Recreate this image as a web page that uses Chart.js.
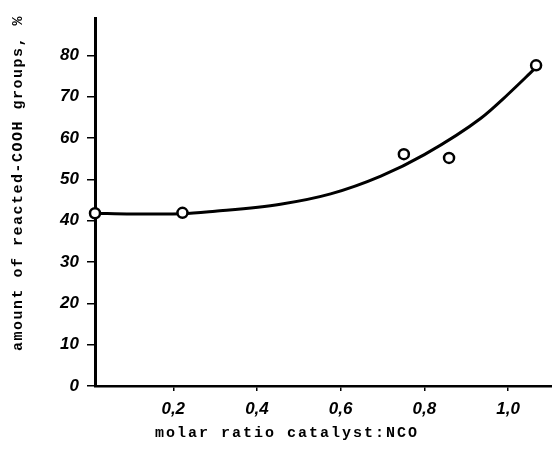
<!DOCTYPE html>
<html><head><meta charset="utf-8">
<script src="https://cdn.jsdelivr.net/npm/chart.js@4"></script>
<style>html,body{margin:0;padding:0;background:#fff;}#wrap{width:552px;height:449px;}</style>
</head><body><div id="wrap"><canvas id="c" width="552" height="449"></canvas></div>
<script>
const ratioPoints = [0.013, 0.222, 0.751, 0.859, 1.067];
const reactedPoints = [41.8, 41.9, 56.1, 55.2, 77.6];
const curveX = [0.013, 0.1, 0.222, 0.3, 0.456, 0.576, 0.696, 0.8, 0.935, 1.0, 1.062];
const curveY = [41.8, 41.6, 41.7, 42.3, 44.0, 46.5, 50.8, 56.0, 64.8, 70.6, 76.6];
const xTicks = [0.2, 0.4, 0.6, 0.8, 1.0];
const yTicks = [0, 10, 20, 30, 40, 50, 60, 70, 80];
const xTitle = 'molar ratio catalyst:NCO';
const yTitle = 'amount of reacted-COOH groups, %';

const titlePlugin = {
  id: 'titles',
  afterDraw(chart) {
    const ctx = chart.ctx;
    ctx.save();
    ctx.fillStyle = '#000';
    ctx.font = 'bold 15px "Liberation Mono"';
    ctx.textAlign = 'center';
    ctx.textBaseline = 'middle';
    if ('letterSpacing' in ctx) ctx.letterSpacing = '2px';
    ctx.fillText(xTitle, 287, 433);
    if ('letterSpacing' in ctx) ctx.letterSpacing = '1.5px';
    ctx.translate(18, 183);
    ctx.rotate(-Math.PI / 2);
    ctx.fillText(yTitle, 0, 0);
    ctx.restore();
  }
};

new Chart(document.getElementById('c'), {
  type: 'scatter',
  data: {
    datasets: [
      {
        data: ratioPoints.map((x, i) => ({x, y: reactedPoints[i]})),
        pointRadius: 5, pointBorderWidth: 2.5, pointBorderColor: '#000',
        pointBackgroundColor: '#fff', showLine: false, order: 0, clip: false
      },
      {
        data: curveX.map((x, i) => ({x, y: curveY[i]})),
        showLine: true, borderColor: '#000', borderWidth: 3, pointRadius: 0,
        cubicInterpolationMode: 'monotone', order: 1
      }
    ]
  },
  plugins: [titlePlugin],
  options: {
    responsive: false, animation: false, events: [],
    layout: {autoPadding: false, padding: {top: 15, right: 0, left: 0, bottom: 0}},
    plugins: {legend: {display: false}, tooltip: {enabled: false}},
    scales: {
      x: {
        type: 'linear', min: 0.013, max: 1.105,
        afterBuildTicks(s) { s.ticks = xTicks.map(v => ({value: v})); },
        afterFit(s) { s.height = 63; s.paddingRight = 0; s.paddingLeft = 0; },
        border: {display: true, color: '#000', width: 2.5},
        grid: {display: true, drawOnChartArea: false, drawTicks: true, tickLength: 5, color: '#000', lineWidth: 1.5},
        ticks: {
          color: '#000', padding: 8,
          font: {family: '"Liberation Sans"', size: 17, style: 'italic', weight: 'bold'},
          callback: v => v.toFixed(1).replace('.', ',')
        }
      },
      y: {
        type: 'linear', min: 0, max: 89,
        afterBuildTicks(s) { s.ticks = yTicks.map(v => ({value: v})); },
        afterFit(s) { s.width = 95; },
        border: {display: true, color: '#000', width: 3},
        grid: {display: true, drawOnChartArea: false, drawTicks: true, tickLength: 8, color: '#000', lineWidth: 1.5},
        ticks: {
          color: '#000', padding: 8,
          font: {family: '"Liberation Sans"', size: 17, style: 'italic', weight: 'bold'},
          callback: v => String(v)
        }
      }
    }
  }
});
</script></body></html>
